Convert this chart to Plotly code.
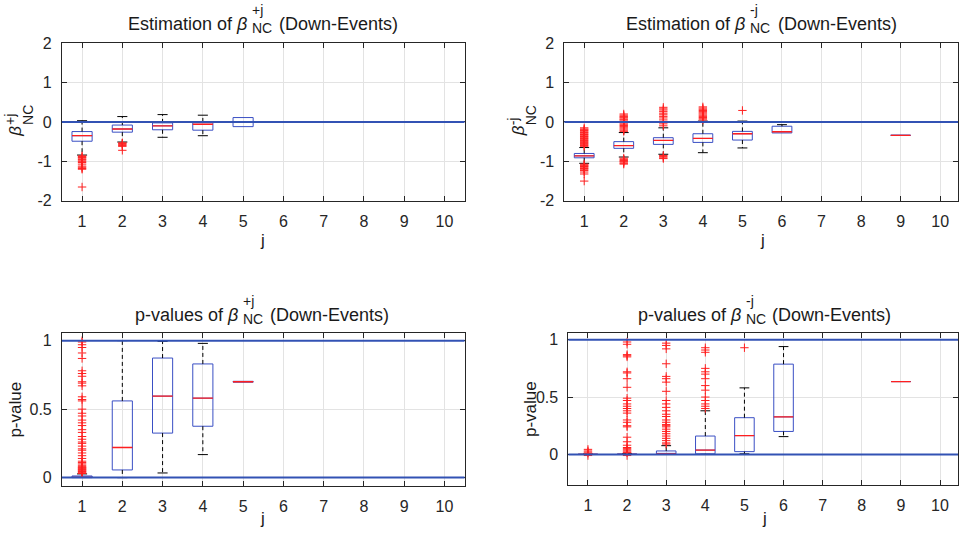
import plotly.graph_objects as go

# ---------------- data ----------------
J_TICKS = [1, 2, 3, 4, 5, 6, 7, 8, 9, 10]

# Top-left: estimation of beta^{+j}_NC
TL_POS = [1, 2, 3, 4, 5]
TL_Q1 = [-0.49, -0.26, -0.20, -0.21, -0.12]
TL_MED = [-0.35, -0.18, -0.10, -0.06, 0.0]
TL_Q3 = [-0.245, -0.08, -0.025, 0.0, 0.11]
TL_LO = [-0.84, -0.51, -0.39, -0.35, -0.12]
TL_HI = [0.03, 0.135, 0.185, 0.17, 0.11]
TL_OUT = [
    [-0.86, -0.88, -0.90, -0.92, -0.95, -0.97, -1.00, -1.03, -1.07, -1.12, -1.15, -1.18, -1.20, -1.65],
    [-0.53, -0.55, -0.57, -0.60, -0.62, -0.72],
    [], [], [],
]

# Top-right: estimation of beta^{-j}_NC
TR_POS = [1, 2, 3, 4, 5, 6, 9]
TR_Q1 = [-0.91, -0.67, -0.57, -0.52, -0.46, -0.28, -0.34]
TR_MED = [-0.86, -0.60, -0.47, -0.42, -0.30, -0.25, -0.34]
TR_Q3 = [-0.80, -0.50, -0.40, -0.30, -0.24, -0.11, -0.34]
TR_LO = [-1.05, -0.89, -0.82, -0.78, -0.66, -0.28, -0.34]
TR_HI = [-0.65, -0.27, -0.15, 0.02, 0.02, -0.07, -0.34]
TR_OUT = [
    [-0.15, -0.18, -0.20, -0.22, -0.25, -0.27, -0.30, -0.32, -0.35, -0.37, -0.40, -0.42,
     -0.45, -0.47, -0.50, -0.52, -0.55, -0.57, -0.60, -0.62,
     -1.07, -1.09, -1.11, -1.13, -1.15, -1.18, -1.20, -1.23, -1.27, -1.32, -1.50],
    [0.20, 0.17, 0.14, 0.12, 0.10, 0.07, 0.05, 0.02, 0.0, -0.03, -0.06, -0.09, -0.12,
     -0.15, -0.18, -0.21, -0.24, -0.92, -0.95, -0.98, -1.00, -1.02, -1.05, -1.07],
    [0.37, 0.33, 0.30, 0.26, 0.22, 0.18, 0.14, 0.10, 0.05, 0.0, -0.05, -0.10,
     -0.85, -0.88, -0.91, -0.93],
    [0.38, 0.35, 0.32, 0.29, 0.26, 0.23, 0.20, 0.17, 0.14, 0.11, 0.08, 0.05],
    [0.29],
    [], [],
]

# Bottom-left: p-values of beta^{+j}_NC
BL_POS = [1, 2, 3, 4, 5]
BL_Q1 = [0.0, 0.056, 0.325, 0.375, 0.697]
BL_MED = [0.002, 0.22, 0.595, 0.58, 0.70]
BL_Q3 = [0.012, 0.56, 0.873, 0.83, 0.703]
BL_LO = [0.0, 0.0, 0.034, 0.168, 0.697]
BL_HI = [0.027, 1.0, 0.995, 0.98, 0.703]
BL_OUT = [
    [0.03, 0.035, 0.04, 0.045, 0.05, 0.055, 0.06, 0.065, 0.07, 0.075, 0.08, 0.09, 0.10,
     0.11, 0.12, 0.14, 0.16, 0.18, 0.20, 0.21, 0.23, 0.25, 0.26, 0.28, 0.30, 0.33, 0.35,
     0.38, 0.40, 0.42, 0.45, 0.47, 0.50, 0.56, 0.57, 0.59, 0.67, 0.69, 0.70, 0.74, 0.76,
     0.78, 0.87, 0.91, 0.95, 0.97, 0.99, 1.0],
    [], [], [], [],
]

# Bottom-right: p-values of beta^{-j}_NC
BR_POS = [1, 2, 3, 4, 5, 6, 9]
BR_Q1 = [0.0, 0.0, 0.0, 0.005, 0.024, 0.20, 0.635]
BR_MED = [0.0, 0.0, 0.005, 0.038, 0.164, 0.327, 0.635]
BR_Q3 = [0.002, 0.004, 0.03, 0.16, 0.32, 0.787, 0.635]
BR_LO = [0.0, 0.0, 0.0, 0.0, 0.005, 0.155, 0.635]
BR_HI = [0.003, 0.006, 0.076, 0.38, 0.58, 0.94, 0.635]
BR_OUT = [
    [0.044, 0.03, 0.02, 0.01, -0.01],
    [0.98, 0.96, 0.87, 0.86, 0.85, 0.72, 0.71, 0.66, 0.585, 0.49, 0.47, 0.44, 0.42, 0.40,
     0.38, 0.36, 0.30, 0.28, 0.25, 0.24, 0.15, 0.11, 0.08, 0.06, 0.05, 0.04, 0.03, 0.02,
     0.015, -0.01],
    [0.97, 0.95, 0.92, 0.79, 0.68, 0.66, 0.63, 0.55, 0.47, 0.44, 0.41, 0.38, 0.35, 0.33,
     0.30, 0.28, 0.26, 0.25, 0.24, 0.22, 0.20, 0.18, 0.16, 0.14, 0.12, 0.10, 0.09],
    [0.93, 0.91, 0.89, 0.75, 0.72, 0.70, 0.66, 0.60, 0.56, 0.50, 0.47, 0.44, 0.42, 0.40],
    [0.93],
    [], [],
]

EST_REF = [0]
P_REF = [0, 1]

# ---------------- styling ----------------
W, H = 959, 533
# the photograph places page rows at IMG_Y0 + IMG_S * y
IMG_Y0, IMG_S = 8.0, 0.969
FONT = "Liberation Sans, Arial, Helvetica, sans-serif"
TXT = "#262626"
BOX_BLUE = "#3a4fc4"
REF_BLUE = "#3252b4"
MED_RED = "#ff1f1f"
BOX_W = 0.5
CAP_W = 0.25

fig = go.Figure()


def add_panel(ax, pos, q1, med, q3, lo, hi, outs):
    xa, ya = ("x" + ax, "y" + ax) if ax != "1" else ("x", "y")
    fig.add_trace(go.Box(
        x=pos, q1=q1, median=med, q3=q3, lowerfence=q1, upperfence=q3,
        width=BOX_W, whiskerwidth=0, fillcolor="rgba(0,0,0,0)",
        line=dict(color=BOX_BLUE, width=1), boxpoints=False,
        xaxis=xa, yaxis=ya, showlegend=False, hoverinfo="skip"))
    wx, wy, cx, cy = [], [], [], []
    for p, a, b, l, h in zip(pos, q1, q3, lo, hi):
        if h > b:
            wx += [p, p, None]; wy += [b, h, None]
            cx += [p - CAP_W / 2, p + CAP_W / 2, None]; cy += [h, h, None]
        if l < a:
            wx += [p, p, None]; wy += [a, l, None]
            cx += [p - CAP_W / 2, p + CAP_W / 2, None]; cy += [l, l, None]
    fig.add_trace(go.Scatter(x=wx, y=wy, mode="lines",
                             line=dict(color="black", width=1, dash="4px,3px"),
                             xaxis=xa, yaxis=ya, showlegend=False, hoverinfo="skip"))
    fig.add_trace(go.Scatter(x=cx, y=cy, mode="lines",
                             line=dict(color="black", width=1),
                             xaxis=xa, yaxis=ya, showlegend=False, hoverinfo="skip"))
    mx, my = [], []
    for p, m in zip(pos, med):
        mx += [p - BOX_W / 2, p + BOX_W / 2, None]; my += [m, m, None]
    fig.add_trace(go.Scatter(x=mx, y=my, mode="lines",
                             line=dict(color=MED_RED, width=1.3),
                             xaxis=xa, yaxis=ya, showlegend=False, hoverinfo="skip"))
    ox, oy = [], []
    for p, o in zip(pos, outs):
        ox += [p] * len(o); oy += list(o)
    fig.add_trace(go.Scatter(x=ox, y=oy, mode="markers",
                             marker=dict(symbol="cross-thin", size=6,
                                         line=dict(color=MED_RED, width=1)),
                             xaxis=xa, yaxis=ya, showlegend=False, hoverinfo="skip"))


add_panel("1", TL_POS, TL_Q1, TL_MED, TL_Q3, TL_LO, TL_HI, TL_OUT)
add_panel("2", TR_POS, TR_Q1, TR_MED, TR_Q3, TR_LO, TR_HI, TR_OUT)
add_panel("3", BL_POS, BL_Q1, BL_MED, BL_Q3, BL_LO, BL_HI, BL_OUT)
add_panel("4", BR_POS, BR_Q1, BR_MED, BR_Q3, BR_LO, BR_HI, BR_OUT)

shapes = []
for ax, refs in (("", EST_REF), ("2", EST_REF), ("3", P_REF), ("4", P_REF)):
    for r in refs:
        shapes.append(dict(type="line", xref="x%s domain" % ax, yref="y" + ax,
                           x0=0, x1=1, y0=r, y1=r, layer="above",
                           line=dict(color=REF_BLUE, width=2)))


def px_x(px):
    return px / W


def px_y(py):
    page = (py - IMG_Y0) / IMG_S
    return 1 - page / H


def xaxis_cfg(x0, x1, rng, anchor):
    return dict(domain=[px_x(x0), min(1.0, px_x(x1))], range=rng, anchor=anchor,
                tickvals=J_TICKS, ticks="inside", ticklen=5, tickcolor=TXT,
                showline=True, linecolor=TXT, linewidth=1, mirror="ticks",
                showgrid=True, gridcolor="#e3e3e3", gridwidth=1, zeroline=False,
                tickfont=dict(family=FONT, size=16, color=TXT), ticklabelstandoff=6)


def yaxis_cfg(y0, y1, rng, tickvals, ticktext, anchor):
    return dict(domain=[px_y(y1), px_y(y0)], range=rng, anchor=anchor,
                tickvals=tickvals, ticktext=ticktext, ticks="inside", ticklen=5,
                tickcolor=TXT, showline=True, linecolor=TXT, linewidth=1, mirror="ticks",
                showgrid=True, gridcolor="#e3e3e3", gridwidth=1, zeroline=False,
                tickfont=dict(family=FONT, size=16, color=TXT), ticklabelstandoff=6)


EST_TICKS = [-2, -1, 0, 1, 2]
P_TICKS = [0, 0.5, 1]

layout = dict(
    width=W, height=H, margin=dict(l=0, r=0, t=0, b=0),
    paper_bgcolor="white", plot_bgcolor="white", showlegend=False,
    xaxis=xaxis_cfg(62, 465, [0.5, 10.5], "y"),
    yaxis=yaxis_cfg(43, 201, [-2, 2], EST_TICKS, [str(t) for t in EST_TICKS], "x"),
    xaxis2=xaxis_cfg(565, 961, [0.5, 10.45], "y2"),
    yaxis2=yaxis_cfg(43, 201, [-2, 2], EST_TICKS, [str(t) for t in EST_TICKS], "x2"),
    xaxis3=xaxis_cfg(62, 465, [0.5, 10.5], "y3"),
    yaxis3=yaxis_cfg(333, 486, [-0.058, 1.058], P_TICKS, ["0", "0.5", "1"], "x3"),
    xaxis4=xaxis_cfg(569, 961, [0.5, 10.46], "y4"),
    yaxis4=yaxis_cfg(333, 485, [-0.263, 1.061], P_TICKS, ["0", "0.5", "1"], "x4"),
    shapes=shapes,
)

ann = []


def txt(text, x, y, xanchor="center", yanchor="middle", size=18, angle=0):
    ann.append(dict(text=text, x=px_x(x), y=px_y(y), xref="paper", yref="paper",
                    xanchor=xanchor, yanchor=yanchor, showarrow=False, textangle=angle,
                    font=dict(family=FONT, size=size, color="#1a1a1a"), align="left"))


def title(prefix, sup, beta_end, tail_start, yc):
    txt(prefix + " <i>β</i>", beta_end, yc, xanchor="right")
    txt(sup + "<br>NC", beta_end + 1, yc - 5, xanchor="left", size=14)
    txt("(Down-Events)", tail_start, yc, xanchor="left")


title("Estimation of", "+j", 249, 277, 24)
title("Estimation of", "-j", 748, 777, 24)
title("p-values of", "+j", 240, 268, 315)
title("p-values of", "-j", 744, 771, 315)

for bx, sup in ((16, "+j"), (519, "-j")):
    txt("<i>β</i>", bx, 131, size=17, angle=-90)
    txt(sup + "<br>NC", bx + 3, 115, size=14, angle=-90)
txt("p-value", 16, 410, size=17, angle=-90)
txt("p-value", 531, 409, size=17, angle=-90)

txt("j", 263, 241, size=17)
txt("j", 763, 241, size=17)
txt("j", 263, 519, size=17)
txt("j", 765, 519, size=17)

layout["annotations"] = ann
fig.update_layout(**layout)

POST = """
var s = document.createElement('style');
s.textContent = 'html,body{margin:0;padding:0;width:959px;height:533px;overflow:hidden;}';
document.head.appendChild(s);
var d = document.getElementById('{plot_id}');
d.style.position = 'fixed'; d.style.left = '0px'; d.style.top = '0px';
"""
fig.write_html("out.html", config={"displayModeBar": False}, post_script=POST)
